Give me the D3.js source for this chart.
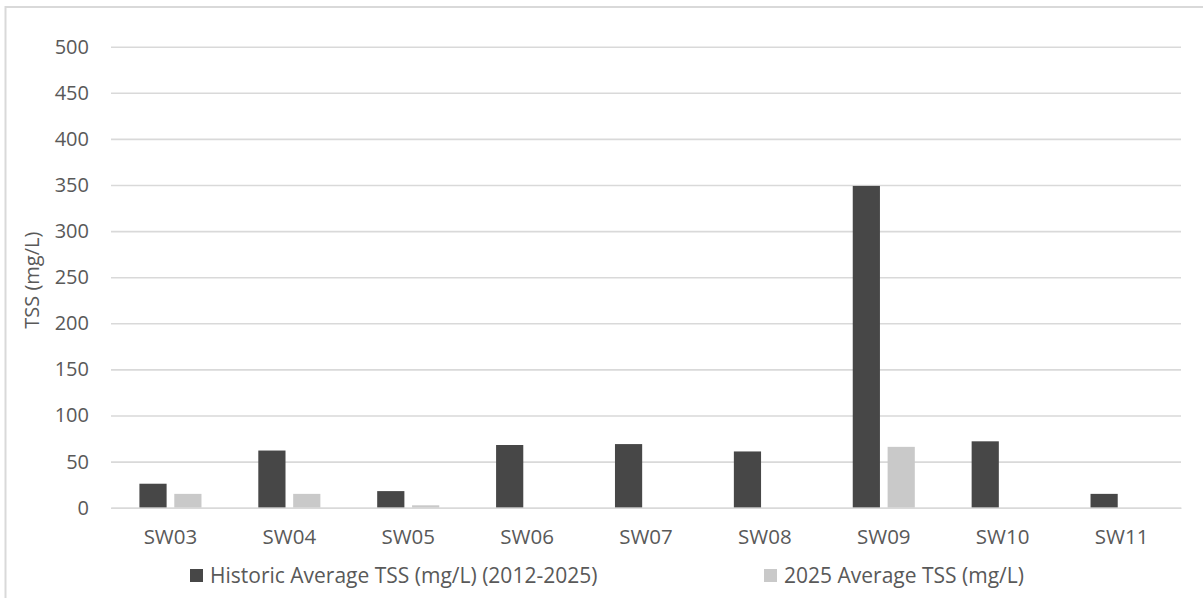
<!DOCTYPE html>
<html>
<head>
<meta charset="utf-8">
<script src="https://cdn.jsdelivr.net/npm/d3@7"></script>
<style>
  html, body { margin: 0; padding: 0; background: #fff; }
  svg { display: block; }
  text { font-family: "Open Sans", "Liberation Sans", sans-serif; fill: #595959; }
</style>
</head>
<body>
<svg id="chart" width="1203" height="598"></svg>
<script>
// Sampling sites along the x axis
const sites = ["SW03", "SW04", "SW05", "SW06", "SW07", "SW08", "SW09", "SW10", "SW11"];
// Historic average TSS (mg/L), 2012-2025
const historicTSS = [26, 62, 18, 68, 69, 61, 349, 72, 15];
// 2025 average TSS (mg/L); null where no 2025 sample exists
const recentTSS = [15, 15, 2.6, null, null, null, 66, null, null];
// Value-axis ticks
const yTicks = [0, 50, 100, 150, 200, 250, 300, 350, 400, 450, 500];
const seriesNames = ["Historic Average TSS (mg/L) (2012-2025)", "2025 Average TSS (mg/L)"];
const seriesColors = ["#474747", "#c9c9c9"];

const svg = d3.select("#chart");
const plot = { left: 111, right: 1181, top: 46.7, bottom: 507.7 };

// Outer chart frame (only top and left edges fall inside the view)
svg.append("rect")
  .attr("x", 5.5).attr("y", 7).attr("width", 1300).attr("height", 700)
  .attr("fill", "none").attr("stroke", "#d9d9d9").attr("stroke-width", 2);

const y = d3.scaleLinear().domain([0, 500]).range([plot.bottom, plot.top]);
const x0 = d3.scaleBand().domain(sites).range([plot.left, plot.right]).padding(0);
const bw = x0.bandwidth();
const x1 = d3.scaleBand().domain([0, 1]).range([bw * 0.239, bw * 0.761]).paddingInner(0.22);

// Horizontal gridlines
const yAxis = d3.axisLeft(y).tickValues(yTicks).tickSize(-(plot.right - plot.left)).tickPadding(22);
const gy = svg.append("g").attr("transform", `translate(${plot.left},0)`).call(yAxis);
gy.select(".domain").remove();
gy.selectAll(".tick line").attr("stroke", "#d9d9d9").attr("stroke-width", 1.6);
gy.selectAll(".tick text").attr("font-size", 20).style("fill", "#595959");

// Bars
const rows = sites.map((s, i) => ({ site: s, vals: [historicTSS[i], recentTSS[i]] }));
const groups = svg.append("g").selectAll("g").data(rows).join("g")
  .attr("transform", d => `translate(${x0(d.site)},0)`);
groups.selectAll("rect")
  .data(d => d.vals.map((v, k) => ({ k, v })).filter(e => e.v != null))
  .join("rect")
  .attr("x", e => x1(e.k))
  .attr("width", x1.bandwidth())
  .attr("y", e => y(e.v))
  .attr("height", e => plot.bottom - y(e.v))
  .attr("fill", e => seriesColors[e.k]);

// Category axis
const xAxis = d3.axisBottom(x0).tickSize(0).tickPadding(22);
const gx = svg.append("g").attr("transform", `translate(0,${plot.bottom})`).call(xAxis);
gx.select(".domain").attr("stroke", "#d9d9d9").attr("stroke-width", 1.6);
gx.selectAll(".tick text").attr("font-size", 20.5).style("fill", "#595959");

// Axis title
svg.append("text")
  .attr("transform", `translate(39,${(plot.top + plot.bottom) / 2 + 3}) rotate(-90)`)
  .attr("text-anchor", "middle")
  .attr("font-size", 20)
  .text("TSS (mg/L)");

// Legend
const legendX = [190, 764];
const legend = svg.append("g").selectAll("g").data(seriesNames).join("g")
  .attr("transform", (d, i) => `translate(${legendX[i]},576)`);
legend.append("rect").attr("x", 0).attr("y", -7).attr("width", 13).attr("height", 13)
  .attr("fill", (d, i) => seriesColors[i]);
legend.append("text").attr("x", 20).attr("dy", "0.35em").attr("font-size", 21).text(d => d);
</script>
</body>
</html>
